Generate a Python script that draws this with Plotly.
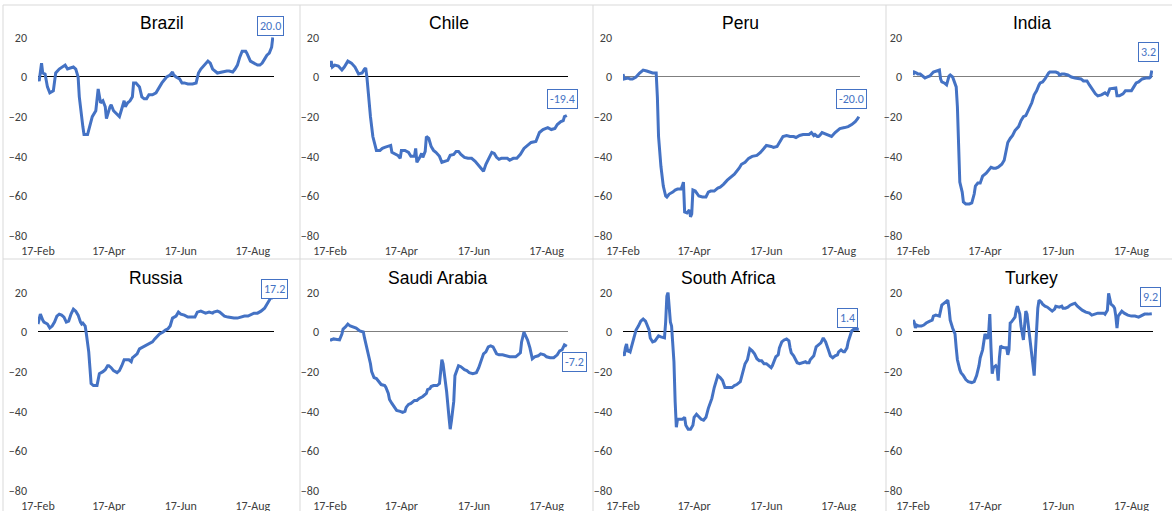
import pandas as pd
import plotly.graph_objects as go

BASE = pd.Timestamp("2020-02-17")

countries = ["Brazil", "Chile", "Peru", "India", "Russia", "Saudi Arabia", "South Africa", "Turkey"]

tick_dates = ["2020-02-17", "2020-04-17", "2020-06-17", "2020-08-17"]
tick_text = ["17-Feb", "17-Apr", "17-Jun", "17-Aug"]
y_ticks = [-80, -60, -40, -20, 0, 20]

# day offsets from 17-Feb-2020 and values
brazil_day = [0,1,3,4,6,8,10,13,15,18,23,25,30,32,34,35,38,39,42,44,46,49,50,51,53,55,57,58,61,62,64,67,69,71,73,74,76,78,80,81,83,86,88,90,92,94,97,100,103,105,109,112,114,115,117,120,122,124,127,131,134,136,138,142,144,146,148,152,155,160,162,165,167,169,171,173,176,177,180,183,186,188,190,192,194,196,198,199]
brazil_val = [-0.5,-2,7,2,1.5,-5,-8,-7,2,4,6,4,5,4,0,-10,-25,-29,-29,-25,-20,-17,-12,-6,-13,-12,-15,-21,-15,-14,-17,-19,-20,-16,-12,-15,-13,-12,-10,-3,-3,-5,-10,-11,-11,-9,-9,-8,-5,-3,0,1,2.5,1,0,-1,-3,-3,-3.5,-3.5,-3,2,4,7,8,7,4,2,2.5,3,3,2.5,4,6,10,13,13,12,8,7,6,6,7,9,11,12,15,20]

chile_day = [0,1,2,4,7,10,12,15,18,21,24,27,29,30,31,32,34,36,38,39,42,44,46,49,51,52,55,57,59,60,63,66,68,71,72,73,75,77,78,80,81,83,85,87,89,92,94,96,99,101,104,106,108,110,113,116,119,122,124,127,129,131,134,136,138,140,142,144,147,149,151,154,157,160,163,166,169,173,176,179,183,186,189,191,194,196,197,199]
chile_val = [5,8,5,6,5.5,3.5,5,8,7,5,1.5,2,4,4.5,0,-8,-20,-30,-35,-37,-37,-36,-35.5,-35,-34.5,-38,-39,-39.5,-41,-37,-37,-38,-40,-40,-36,-43,-41,-38.5,-40.5,-37.5,-30,-31,-35,-37,-38,-40,-43,-42.5,-42,-39.5,-39,-37.5,-37.5,-39,-40.5,-41,-41,-42.5,-44,-46,-47.5,-44,-40,-38,-38.5,-40.5,-41.5,-41,-41,-41,-42,-41,-41,-39,-36,-34.5,-33,-32.5,-28,-26.5,-25.5,-26.5,-26,-24,-22.5,-22,-20,-19.4]

peru_day = [0,1,4,6,8,11,14,17,20,22,25,28,29,30,32,34,36,37,39,42,44,46,49,50,51,52,54,56,57,58,59,61,64,67,70,72,74,77,80,82,85,88,91,94,98,100,103,106,109,113,116,119,121,125,127,130,132,135,138,141,144,146,149,152,155,157,159,161,162,164,165,166,168,170,173,176,179,181,183,187,190,193,196,198,199]
peru_val = [1.5,-1,-0.5,-1,-1,0,2,3.5,3,2.5,2,2,-10,-30,-45,-55,-60,-60.5,-59,-58,-57,-56.5,-56.5,-55,-53,-68,-68.5,-67,-70.5,-69,-57,-57.5,-60,-60.5,-60.5,-58,-57.5,-57.5,-56,-55.5,-54,-52,-50.5,-49,-46,-44,-43,-41,-40,-39.5,-38,-36,-34.5,-35,-35.5,-35,-33,-30,-29.5,-30,-30,-30.5,-29.5,-29,-29,-29,-28,-29.5,-29,-30,-30,-29.5,-28,-28.5,-29.5,-30,-28,-27,-26,-25.5,-25,-24,-22.5,-21,-20]

india_day = [0,1,3,4,6,8,10,12,14,17,19,22,23,24,26,28,30,31,33,34,36,37,38,39,41,42,44,47,49,51,52,54,56,58,61,63,65,67,69,71,74,76,77,79,81,83,85,88,90,92,94,97,99,101,103,105,106,108,110,113,114,117,119,121,122,124,126,129,132,135,138,140,142,145,147,149,152,154,157,160,162,164,167,169,170,172,175,177,179,182,184,186,188,191,194,197,198,199]
india_val = [1,2.5,2,1.5,1.5,0.5,-0.5,0,0.5,2.5,3,3.5,-1,-2.5,-3,-4,0.5,1,0,-2,-5,-15,-35,-53,-58,-63,-64,-64,-63.5,-59,-55,-53.5,-53.5,-50,-48.5,-47,-45.5,-46,-46,-45.5,-44,-42,-38.5,-33,-31,-29.5,-27,-25,-22,-20,-19.5,-16,-13,-9,-7,-4,-3,-2.5,-1,2,2.5,2.5,2.5,2,1,1.5,1.5,1,0,-0.5,-1,-1,-2,-2,-4,-6,-8.5,-9.5,-9,-8,-9,-6,-5.5,-5.5,-9.5,-9.5,-8.5,-7,-7,-7,-5,-3,-2.5,-1,-0.5,-0.5,0,3.2]

russia_day = [0,1,2,4,5,8,10,12,14,16,18,20,22,24,26,28,30,32,34,36,37,38,40,41,43,44,45,47,50,51,52,55,57,59,60,62,64,67,69,71,73,75,77,79,80,82,84,86,89,92,94,97,99,101,103,106,108,110,112,114,116,117,119,121,124,127,130,133,135,138,140,142,145,148,149,152,154,156,158,161,164,166,169,172,175,178,180,183,186,189,192,194,197,199]
russia_val = [4,6,9,6,5,4,2,3,5,8,9,8.5,7.5,5,5.5,9,11.5,10.5,8.5,5,4,4.5,3,-1,-10,-18,-26,-27,-27,-24,-21,-20,-19,-17,-17,-18,-19.5,-20.5,-19.5,-17,-14,-14,-14,-15,-13,-12,-11,-8.5,-7.5,-6.5,-6,-5,-3.5,-2,-1,0,1,1.5,3,7,7.5,8,10,9,8.5,7.5,7.5,7.5,10,10.5,10,9.5,10,9.5,10,10.5,10,9,8,7.5,7,7,7,7.5,8,8,8.5,9.5,9.5,10.5,12,14,17,17.2]

saudi_day = [0,1,3,6,8,10,11,13,15,17,20,22,25,28,29,31,32,34,35,37,39,41,43,46,47,49,50,52,54,56,59,61,63,64,66,68,71,73,75,78,81,82,84,85,87,90,92,94,95,96,98,100,101,102,104,105,107,108,110,113,115,117,120,123,125,127,129,131,133,135,137,140,142,145,148,151,154,156,158,160,161,163,164,166,168,170,172,175,177,180,182,185,188,191,193,195,197,199]
saudi_val = [-3.5,-4,-3.5,-4,-4,-1,1.5,2.5,4,3,2.5,2,0.5,0,-3,-8,-12,-16,-20,-23,-23.5,-25,-26.5,-27,-28,-31,-34,-36,-38,-39.5,-40,-40.5,-40,-38,-36.5,-36,-34.5,-34.5,-33.5,-32.5,-31,-29,-28.5,-27.5,-27,-27,-26,-14,-16,-20.5,-30,-43,-49,-45,-35,-22,-18,-17,-17.5,-19,-19.5,-20.5,-21,-20.5,-18,-14,-11,-10,-7.5,-7,-7.5,-11,-11.5,-11.5,-12,-12.5,-12.5,-12.5,-11.5,-10.5,-5,0,-1.5,-4,-8,-13.5,-12.5,-12,-11,-11.5,-12.5,-13,-13,-11.5,-9.5,-9,-6.5,-7.2]

safrica_day = [0,1,2,3,4,5,6,8,10,11,13,15,17,19,20,22,23,25,27,29,30,32,34,35,36,37,38,39,40,41,42,43,44,45,46,48,50,52,53,55,57,59,60,62,64,66,68,70,72,73,75,77,79,80,82,84,86,87,90,92,94,96,99,100,101,103,105,106,107,109,111,113,115,117,119,121,123,125,126,128,129,131,132,134,136,138,140,141,142,144,147,149,152,154,155,157,158,161,163,165,167,169,171,173,175,177,179,181,182,184,186,187,189,190,192,193,195,197,199]
safrica_val = [-10,-12,-8,-6,-10,-9.5,-10,-6,-2,1,3,5.5,6.5,5.5,4,1,-3,-5,-4.5,-3,-2,-2.5,-3,-3,5,18,20,10,5,3,-5,-15,-35,-48,-44,-44,-44,-43,-47,-49,-49,-47,-43,-41.5,-43,-44,-44.5,-43,-38.5,-37,-33.5,-28,-24,-22,-23,-24.5,-28,-28,-28,-28,-27,-26.5,-25,-22.5,-19.5,-16,-14,-10,-8.5,-9.5,-11,-13.5,-14.5,-14.5,-16,-16,-17,-18,-17,-13.5,-12.5,-11.5,-8,-5,-4,-3.5,-4.5,-8,-10.5,-12,-15.5,-16,-15.5,-15,-15.5,-15.5,-14,-12,-7.5,-6.5,-5.5,-3,-5,-8.5,-12,-13,-12,-11.5,-10,-9,-10,-10,-8,-5,-1,0.5,1.5,1.5,1.4]

turkey_day = [0,1,2,3,5,7,9,11,14,16,17,19,22,23,24,26,28,29,30,31,33,35,36,37,39,40,42,44,46,49,51,53,55,56,58,59,60,61,62,63,64,65,66,67,69,70,71,72,73,74,76,78,79,80,81,82,83,85,86,87,89,90,92,93,94,95,96,98,99,100,101,102,103,104,105,107,108,110,112,114,116,118,119,122,124,125,127,129,131,133,135,137,139,141,144,147,149,151,154,157,159,160,162,163,164,165,167,168,169,170,171,173,174,176,179,182,185,188,190,193,196,198,199]
turkey_val = [6,5,2,3.5,3,3,3.5,4.5,5.5,6,8,8.5,8,12,13.5,14.5,15.5,16,12,6,2,-1,-8,-14,-19,-20.5,-22,-24,-25,-25.5,-25,-22,-17,-13,-9,-4,-1,-2,-3.5,-1,9,-8,-21,-18,-17,-18,-24.5,-13,-7,-7.5,-8,-8,-11.5,-9,4.5,5,6,7.5,11,13,9,3,-4,2,10.5,9,4,-5,-10,-15,-22,-10,5,12,16,15,14,13,12.5,11.5,10.5,11.5,13,12.5,13,12,12,12.5,13.5,14,14.5,13,12,11,10,9.5,8.5,9,9.5,9.5,9.5,9,11,19.5,17,14,13,12,8,2,8,9.5,10.5,9.5,8.5,8,8,7.5,8,9,9,9,9.2]

series_days = [brazil_day, chile_day, peru_day, india_day, russia_day, saudi_day, safrica_day, turkey_day]
series_vals = [brazil_val, chile_val, peru_val, india_val, russia_val, saudi_val, safrica_val, turkey_val]
last_labels = ["20.0", "-19.4", "-20.0", "3.2", "17.2", "-7.2", "1.4", "9.2"]

for d, v, n in zip(series_days, series_vals, countries):
    assert len(d) == len(v), (n, len(d), len(v))

# ---- layout geometry (pixels) ----
W, H = 1172, 511
col_px = [(38, 274), (330, 568), (623, 860), (913, 1153)]
row_px = [(37.3, 235.7), (292.3, 490.7)]
title_px = [(161.7, 22.7), (449, 22.7), (740.3, 22.7), (1032.3, 22.7),
            (156, 277.7), (437.7, 277.7), (728, 277.7), (1031.7, 277.7)]
label_shift = [(-2, 11), (-4, 16), (-7, 18), (-3, 19), (2, 9), (8, -16), (-11, 11.5), (-1, 16.5)]
zero_colors = ["#000000", "#000000", "#7f7f7f", "#7f7f7f", "#000000", "#7f7f7f", "#000000", "#000000"]

BLUE = "#4472C4"
TICK_FONT = dict(family="Calibri, Carlito, Lato, sans-serif", size=12, color="#404040")

fig = go.Figure()
layout = dict(template="none", width=W, height=H, autosize=False,
              margin=dict(l=0, r=0, t=0, b=0, pad=0, autoexpand=False),
              paper_bgcolor="white", plot_bgcolor="white", showlegend=False)
annotations = []
x_end = BASE + pd.Timedelta(days=200)

for i, name in enumerate(countries):
    r, c = divmod(i, 4)
    k = i + 1
    xs = "" if k == 1 else str(k)
    dates = BASE + pd.to_timedelta(series_days[i], unit="D")
    fig.add_trace(go.Scatter(x=dates, y=series_vals[i], mode="lines",
                             line=dict(color=BLUE, width=3), xaxis="x" + xs, yaxis="y" + xs,
                             hoverinfo="skip"))
    x0, x1 = col_px[c]
    y0, y1 = row_px[r]
    layout["xaxis" + xs] = dict(domain=[x0 / W, x1 / W], anchor="y" + xs, type="date",
                                range=[BASE, x_end], tickvals=tick_dates, ticktext=tick_text,
                                showgrid=False, zeroline=False, showline=False, ticks="",
                                automargin=False,
                                tickfont=TICK_FONT, ticklabelstandoff=6, fixedrange=True)
    layout["yaxis" + xs] = dict(domain=[1 - y1 / H, 1 - y0 / H], anchor="x" + xs,
                                range=[-80, 20], tickvals=y_ticks,
                                showgrid=False, showline=False, ticks="", automargin=False,
                                zeroline=True, zerolinecolor=zero_colors[i], zerolinewidth=1,
                                tickfont=TICK_FONT, ticklabelstandoff=10, fixedrange=True)
    tx, ty = title_px[i]
    annotations.append(dict(text=name, x=tx / W, y=1 - ty / H, xref="paper", yref="paper",
                            showarrow=False, xanchor="center", yanchor="middle",
                            font=dict(family="Liberation Sans, Arial, sans-serif", size=17.5,
                                      color="#000000")))
    sx, sy = label_shift[i]
    annotations.append(dict(text=last_labels[i], x=dates[-1], y=series_vals[i][-1],
                            xref="x" + xs, yref="y" + xs, showarrow=False,
                            xanchor="center", yanchor="middle", xshift=sx, yshift=sy,
                            bordercolor=BLUE, borderwidth=1, borderpad=2, bgcolor="white",
                            font=dict(family="Calibri, Carlito, Lato, sans-serif", size=12,
                                      color=BLUE)))

# light cell/chart borders
BORDER = "#D9D9D9"
shapes = []
for bx in [3, 300, 593, 886]:
    shapes.append(dict(type="line", xref="paper", yref="paper", x0=bx / W, x1=bx / W,
                       y0=0, y1=1 - 5 / H, line=dict(color=BORDER, width=1), layer="below"))
for by in [5, 259]:
    shapes.append(dict(type="line", xref="paper", yref="paper", x0=3 / W, x1=1,
                       y0=1 - by / H, y1=1 - by / H, line=dict(color=BORDER, width=1),
                       layer="below"))

layout["annotations"] = annotations
layout["shapes"] = shapes
fig.update_layout(**layout)
fig.write_html("out.html", config={"displayModeBar": False, "staticPlot": True},
               post_script="document.body.style.margin='0';document.body.style.overflow='hidden';")
